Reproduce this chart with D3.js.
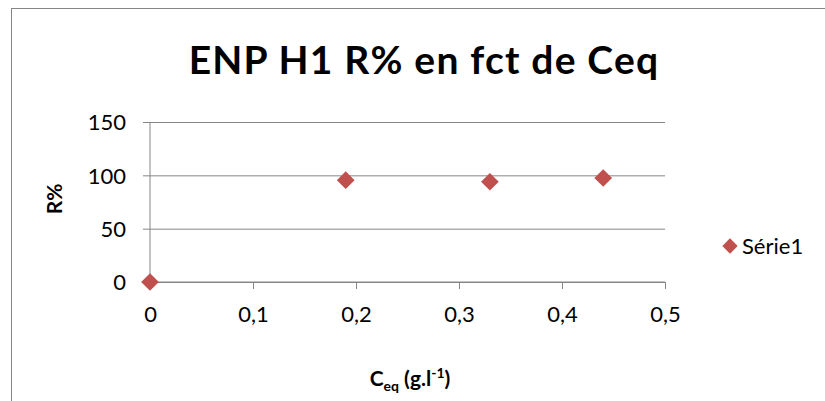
<!DOCTYPE html>
<html>
<head>
<meta charset="utf-8">
<style>
body { margin: 0; background: #fff; }
svg text { font-family: Lato, "Open Sans", sans-serif; fill: #000; }
.axis text { font-size: 22px; }
.axis line, .axis path { stroke: #868686; }
</style>
</head>
<body>
<svg id="chart" width="825" height="401"></svg>
<script src="https://cdn.jsdelivr.net/npm/d3@7"></script>
<script>
// data
const ceq = [0, 0.19, 0.33, 0.44];
const rPercent = [0, 95.5, 94, 97.5];
const xTicks = [0, 0.1, 0.2, 0.3, 0.4, 0.5];
const yTicks = [0, 50, 100, 150];
const seriesName = 'Série1';

const svg = d3.select('#chart');
const margin = {left: 150, right: 160, top: 122, bottom: 119};
const width = 825 - margin.left - margin.right,
      height = 401 - margin.top - margin.bottom;
const red = '#C0504D';

// outer chart border
svg.append('rect')
    .attr('x', 11.5).attr('y', 8.5)
    .attr('width', 830).attr('height', 400)
    .attr('fill', 'none').attr('stroke', '#868686');

const x = d3.scaleLinear().domain([0, 0.5]).range([0, width]);
const y = d3.scaleLinear().domain([0, 150]).range([height, 0]);

const g = svg.append('g')
    .attr('transform', 'translate(' + margin.left + ',' + margin.top + ')');

// horizontal gridlines + y axis
g.append('g')
    .attr('class', 'axis')
    .call(d3.axisLeft(y).tickValues(yTicks).tickSize(-width).tickFormat(d3.format('d')))
    .call(function(a) {
        a.select('.domain').remove();
        a.selectAll('.tick line').attr('x1', -7).attr('x2', width);
        a.selectAll('.tick text').attr('x', -24).attr('dy', '0.36em');
    });

g.append('line')
    .attr('x1', 0).attr('x2', 0).attr('y1', 0).attr('y2', height)
    .attr('stroke', '#868686');

// x axis
const fmtX = function(d) { return d === 0 ? '0' : d3.format('.1f')(d).replace('.', ','); };
g.append('g')
    .attr('class', 'axis')
    .attr('transform', 'translate(0,' + height + ')')
    .call(d3.axisBottom(x).tickValues(xTicks).tickSize(7).tickFormat(fmtX))
    .call(function(a) {
        a.select('.domain').attr('d', 'M0,0H' + width);
        a.selectAll('.tick text').attr('y', 32).attr('dy', '0.36em');
    });

// markers
const diamond = d3.symbol().type(d3.symbolDiamond2).size(200);
g.selectAll('.pt')
    .data(ceq.map(function(c, i) { return {x: c, y: rPercent[i]}; }))
    .join('path')
    .attr('class', 'pt')
    .attr('d', diamond)
    .attr('fill', red)
    .attr('transform', function(d) { return 'translate(' + x(d.x) + ',' + y(d.y) + ')'; });

// title
svg.append('text')
    .attr('x', 424).attr('y', 74)
    .attr('text-anchor', 'middle')
    .attr('font-size', 39).attr('font-weight', 'bold')
    .attr('letter-spacing', 1.2)
    .text('ENP H1 R% en fct de Ceq');

// axis titles
svg.append('text')
    .attr('transform', 'translate(62,199) rotate(-90)')
    .attr('text-anchor', 'middle')
    .attr('font-size', 21).attr('font-weight', 'bold')
    .text('R%');

const xt = svg.append('text')
    .attr('x', 410).attr('y', 386)
    .attr('text-anchor', 'middle')
    .attr('font-size', 21).attr('font-weight', 'bold');
xt.append('tspan').text('C');
xt.append('tspan').attr('font-size', 14).attr('dy', 5).text('eq');
xt.append('tspan').attr('dy', -5).text(' (g.l');
xt.append('tspan').attr('font-size', 14).attr('dy', -8).text('-1');
xt.append('tspan').attr('dy', 8).text(')');

// legend
const lg = svg.append('g').attr('transform', 'translate(730,246)');
lg.append('path').attr('d', d3.symbol().type(d3.symbolDiamond2).size(150)).attr('fill', red);
lg.append('text').attr('x', 12).attr('dy', '0.36em').attr('font-size', 22).text(seriesName);
</script>
</body>
</html>
